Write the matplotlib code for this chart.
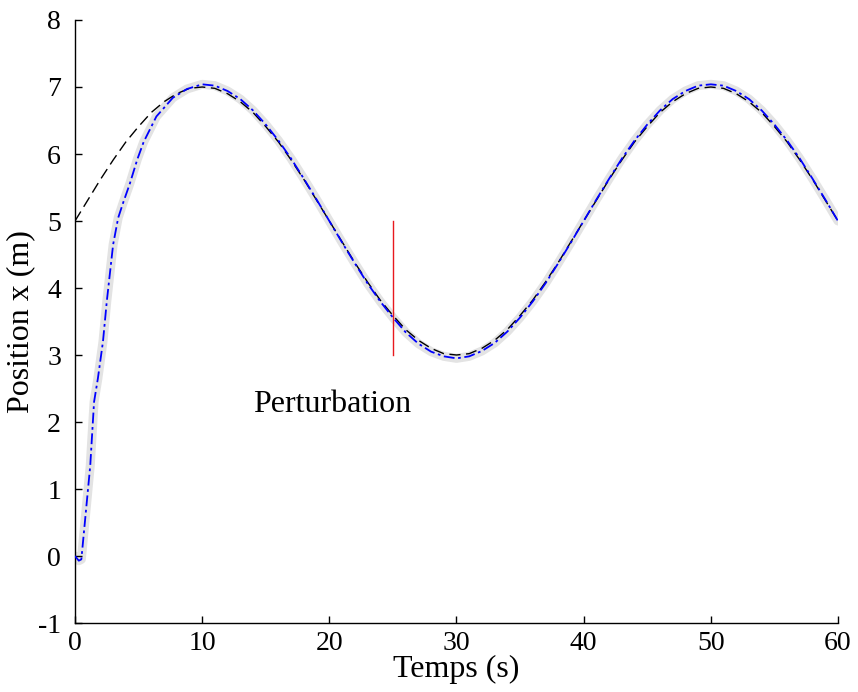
import matplotlib
matplotlib.use("Agg")
import matplotlib.pyplot as plt

plt.rcParams['font.family'] = ['Liberation Serif', 'DejaVu Serif']

# Reference trajectory (black dashed), read every 1 s
t_ref = list(range(0, 61))
x_ref = [5.00, 5.31, 5.62, 5.91, 6.18, 6.41, 6.62, 6.78, 6.90, 6.98,
         7.00, 6.98, 6.90, 6.78, 6.62, 6.41, 6.18, 5.91, 5.62, 5.31,
         5.00, 4.69, 4.38, 4.09, 3.82, 3.59, 3.38, 3.22, 3.10, 3.02,
         3.00, 3.02, 3.10, 3.22, 3.38, 3.59, 3.82, 4.09, 4.38, 4.69,
         5.00, 5.31, 5.62, 5.91, 6.18, 6.41, 6.62, 6.78, 6.90, 6.98,
         7.00, 6.98, 6.90, 6.78, 6.62, 6.41, 6.18, 5.91, 5.62, 5.31,
         5.00]

# Measured trajectory (blue dash-dot with grey band)
t_mes = [0.0, 0.3, 0.5, 0.8, 1.2, 1.5, 1.8, 2.2, 2.5, 3.0, 3.4, 3.8, 4.3,
         4.9, 5.4, 6.4, 7.7, 8.8,
         10, 11, 12, 13, 14, 15, 16, 17, 18, 19,
         20, 21, 22, 23, 24, 25, 26, 27, 28, 29,
         30, 31, 32, 33, 34, 35, 36, 37, 38, 39,
         40, 41, 42, 43, 44, 45, 46, 47, 48, 49,
         50, 51, 52, 53, 54, 55, 56, 57, 58, 59, 60]
x_mes = [0.00, -0.07, -0.05, 0.55, 1.35, 2.30, 2.65, 3.20, 3.80, 4.65, 5.05, 5.28, 5.55,
         5.92, 6.18, 6.56, 6.84, 6.97,
         7.04, 7.02, 6.94, 6.82, 6.65, 6.44, 6.20, 5.93, 5.63, 5.32,
         5.00, 4.68, 4.37, 4.07, 3.80, 3.56, 3.34, 3.17, 3.05, 2.98,
         2.95, 2.98, 3.06, 3.18, 3.35, 3.56, 3.80, 4.07, 4.37, 4.68,
         5.00, 5.32, 5.63, 5.93, 6.20, 6.44, 6.65, 6.82, 6.94, 7.02,
         7.04, 7.02, 6.94, 6.82, 6.65, 6.44, 6.20, 5.93, 5.63, 5.32, 5.00]

# Perturbation marker
t_pert = 25
pert_range = [3, 5]

x_ticks = [0, 10, 20, 30, 40, 50, 60]
y_ticks = [-1, 0, 1, 2, 3, 4, 5, 6, 7, 8]

fig = plt.figure(figsize=(8.58, 6.92), dpi=100)
ax = fig.add_axes([0.0874, 0.0997, 0.8893, 0.8714])

ax.plot(t_mes, x_mes, color='#e3e3e3', lw=6.5, solid_capstyle='round', zorder=1)
ax.plot(t_mes, x_mes, color='#0000ff', lw=1.3, dashes=(6, 2, 1.5, 2), zorder=3)
ax.plot(t_ref, x_ref, color='black', lw=1.0, dashes=(8, 4), zorder=2)
ax.plot([t_pert, t_pert], pert_range, color='#e8191e', lw=1.0, zorder=4)

ax.text(14.0, 2.15, 'Perturbation', fontsize=23, ha='left', va='baseline')

ax.set_xlim(0, 60)
ax.set_ylim(-1, 8)
ax.set_xticks(x_ticks)
ax.set_yticks(y_ticks)
ax.set_xticklabels([str(v) for v in x_ticks])
ax.set_yticklabels([str(v) for v in y_ticks])
ax.tick_params(direction='in', length=5, width=1, labelsize=20)
ax.tick_params(axis='x', pad=6)
ax.tick_params(axis='y', pad=10)

for s in ['top', 'right']:
    ax.spines[s].set_visible(False)
for s in ['left', 'bottom']:
    ax.spines[s].set_linewidth(1.0)

ax.set_xlabel('Temps (s)', fontsize=23, labelpad=-1)
ax.set_ylabel('Position x (m)', fontsize=23, labelpad=2)

fig.savefig('out.png', dpi=100)
